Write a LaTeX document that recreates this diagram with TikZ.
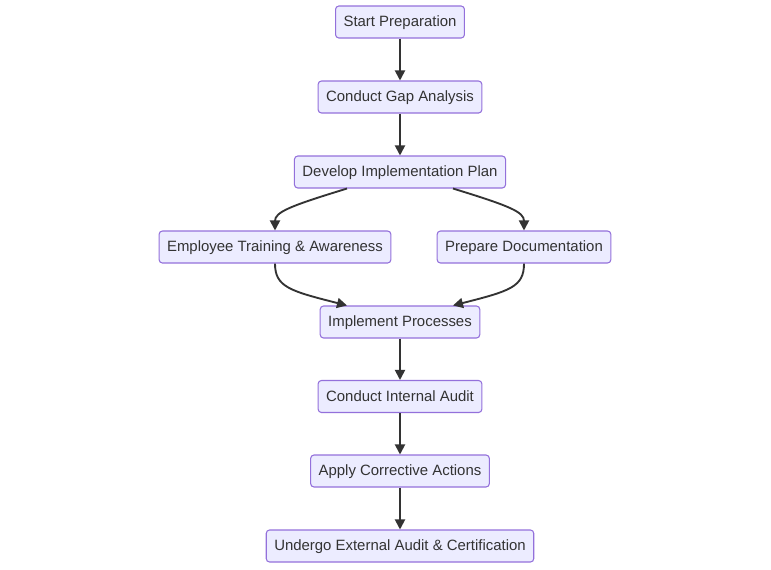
\documentclass[tikz,border=0pt]{standalone}
\usepackage{fontspec}
\setmainfont{Liberation Sans}
\usepackage{tikz}
\usetikzlibrary{arrows.meta,positioning}
\definecolor{boxfill}{HTML}{ECECFF}
\definecolor{boxline}{HTML}{9370DB}
\definecolor{ink}{HTML}{333333}
\tikzset{stage/.style={draw=boxline, fill=boxfill, rounded corners=2.5pt, line width=0.8pt, minimum height=24pt, inner xsep=6pt, text height=9pt, text depth=2pt, text=ink, font=\fontsize{11.2}{13}\selectfont}, flow/.style={draw=ink, line width=1.4pt, -{Triangle[length=7.5pt,width=7.5pt]}}}

\begin{document}
\begin{tikzpicture}[x=0.75pt, y=-0.75pt]
      \useasboundingbox (0,0) rectangle (771,569);
      \node [stage] (start) at (400,22) {Start Preparation};
      \node [stage] (gap) at (400,97) {Conduct Gap Analysis};
      \node [stage] (plan) at (400,172) {Develop Implementation Plan};
      \node [stage] (train) at (275,247) {Employee Training \& Awareness};
      \node [stage] (docs) at (524,247) {Prepare Documentation};
      \node [stage] (impl) at (400,322) {Implement Processes};
      \node [stage] (audit) at (400,396.5) {Conduct Internal Audit};
      \node [stage] (fix) at (400,471) {Apply Corrective Actions};
      \node [stage] (cert) at (400,546) {Undergo External Audit \& Certification};
      \draw [flow] (start) -- (gap);
      \draw [flow] (gap) -- (plan);
      \draw [flow] ([xshift=-39.75pt]plan.south) .. controls (290,206) and (275,212) .. (train.north);
      \draw [flow] ([xshift=39.75pt]plan.south) .. controls (510,206) and (524,212) .. (docs.north);
      \draw [flow] (train.south) .. controls (275,287) and (290,291) .. ([xshift=-39.75pt]impl.north);
      \draw [flow] (docs.south) .. controls (524,287) and (510,291) .. ([xshift=39.75pt]impl.north);
      \draw [flow] (impl) -- (audit);
      \draw [flow] (audit) -- (fix);
      \draw [flow] (fix) -- (cert);
\end{tikzpicture}
\end{document}
